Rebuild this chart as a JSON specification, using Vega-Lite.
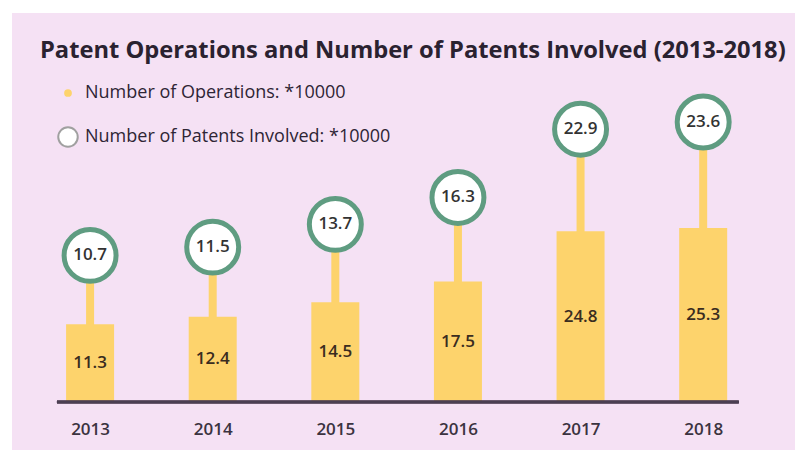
{
  "$schema": "https://vega.github.io/schema/vega-lite/v6.json",
  "width": 783,
  "height": 437,
  "autosize": {"type": "none"},
  "padding": {"left": 12, "top": 13, "right": 0, "bottom": 0},
  "background": "white",
  "config": {"view": {"fill": "#f5e1f4", "stroke": null}, "font": "Open Sans"},
  "title": {
    "text": "Patent Operations and Number of Patents Involved (2013-2018)",
    "anchor": "start",
    "frame": "group",
    "orient": "top",
    "fontSize": 23.7,
    "fontWeight": "bold",
    "color": "#2a2230",
    "font": "Open Sans",
    "baseline": "alphabetic",
    "offset": 0,
    "dx": 28,
    "dy": 69
  },
  "data": {
    "values": [
      {"year": 2013, "operations": 11.3, "patents": 10.7},
      {"year": 2014, "operations": 12.4, "patents": 11.5},
      {"year": 2015, "operations": 14.5, "patents": 13.7},
      {"year": 2016, "operations": 17.5, "patents": 16.3},
      {"year": 2017, "operations": 24.8, "patents": 22.9},
      {"year": 2018, "operations": 25.3, "patents": 23.6}
    ]
  },
  "encoding": {
    "x": {
      "field": "year",
      "type": "quantitative",
      "scale": {"domain": [2012.404, 2018.708], "nice": false, "zero": false},
      "axis": {
        "title": null,
        "values": [2013, 2014, 2015, 2016, 2017, 2018],
        "format": "d",
        "domain": false,
        "ticks": false,
        "grid": false,
        "labelFontSize": 17,
        "labelFont": "Open Sans",
        "labelFontWeight": 600,
        "labelColor": "#3b3340",
        "offset": -40,
        "labelPadding": 11
      }
    }
  },
  "layer": [
    {
      "mark": {"type": "rule", "color": "#fdd36c", "strokeWidth": 8},
      "encoding": {
        "y": {"field": "patents", "type": "quantitative", "scale": {"domain": [-8.12, 34.14], "nice": false, "zero": false}, "axis": null},
        "y2": {"datum": 0}
      }
    },
    {
      "mark": {"type": "bar", "size": 48},
      "encoding": {
        "y": {"field": "operations", "type": "quantitative", "scale": {"domain": [-6.98, 56.54], "nice": false, "zero": false}, "axis": null},
        "y2": {"datum": 0},
        "color": {
          "datum": "Number of Operations: *10000",
          "scale": {"domain": ["Number of Operations: *10000", "Number of Patents Involved: *10000"], "range": ["#fdd36c", "#ffffff"]},
          "legend": {
            "orient": "none",
            "legendX": 45,
            "legendY": 69,
            "title": null,
            "symbolType": "circle",
            "symbolSize": 380,
            "labelFontSize": 18,
            "labelFont": "Open Sans",
            "labelFontWeight": 500,
            "labelColor": "#2e2535",
            "labelOffset": 6,
            "labelLimit": 500,
            "rowPadding": 21,
            "padding": 0,
            "encode": {
              "symbols": {
                "update": {
                  "size": {"signal": "datum.value === 'Number of Operations: *10000' ? 60 : 380"},
                  "stroke": {"signal": "datum.value === 'Number of Operations: *10000' ? 'transparent' : '#a0a0a0'"},
                  "strokeWidth": {"value": 2}
                }
              }
            }
          }
        }
      }
    },
    {
      "mark": {"type": "text", "fontSize": 17, "font": "Open Sans", "fontWeight": 600, "color": "#3a2c20", "baseline": "middle"},
      "encoding": {
        "y": {"field": "operations", "type": "quantitative", "scale": {"domain": [-13.96, 113.08], "nice": false, "zero": false}, "axis": null},
        "text": {"field": "operations", "type": "quantitative", "format": ".1f"}
      }
    },
    {
      "mark": {"type": "rule", "color": "#4b3f52", "strokeWidth": 2.5},
      "encoding": {
        "x": {"datum": 2012.73},
        "x2": {"datum": 2018.29},
        "y": {"datum": 0, "type": "quantitative", "scale": {"domain": [-6.98, 56.54], "nice": false, "zero": false}, "axis": null}
      }
    },
    {
      "mark": {"type": "point", "filled": true, "opacity": 1, "size": 2700, "stroke": "#5f9c81", "strokeWidth": 5},
      "encoding": {
        "y": {"field": "patents", "type": "quantitative", "scale": {"domain": [-8.12, 34.14], "nice": false, "zero": false}, "axis": null},
        "color": {"datum": "Number of Patents Involved: *10000"}
      }
    },
    {
      "mark": {"type": "text", "fontSize": 17, "font": "Open Sans", "fontWeight": 600, "color": "#333333", "baseline": "middle"},
      "encoding": {
        "y": {"field": "patents", "type": "quantitative", "scale": {"domain": [-8.12, 34.14], "nice": false, "zero": false}, "axis": null},
        "text": {"field": "patents", "type": "quantitative", "format": ".1f"}
      }
    }
  ],
  "resolve": {"scale": {"y": "independent"}}
}
